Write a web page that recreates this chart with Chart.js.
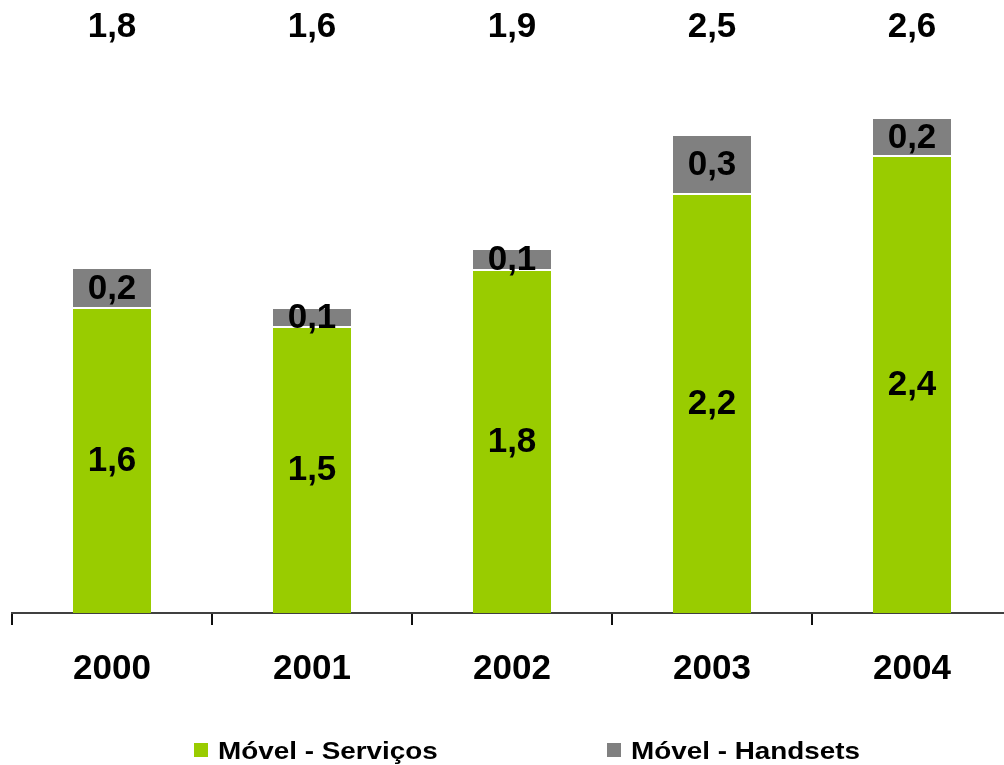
<!DOCTYPE html>
<html>
<head>
<meta charset="utf-8">
<script src="https://cdn.jsdelivr.net/npm/chart.js@4.4.1/dist/chart.umd.min.js"></script>
<style>
  html, body { margin: 0; padding: 0; background: #fff; overflow: hidden; width: 1004px; height: 765px; }
  #wrap { width: 1020px; height: 765px; }
</style>
</head>
<body>
<div id="wrap"><canvas id="abc" width="1020" height="765"></canvas></div>
<script>
const years = ["2000", "2001", "2002", "2003", "2004"];
const servicos = [1.61, 1.51, 1.81, 2.21, 2.41];
const handsets = [0.2, 0.09, 0.1, 0.3, 0.19];
const totals = [1.8, 1.6, 1.9, 2.5, 2.6];
const seriesNames = ["Móvel - Serviços", "Móvel - Handsets"];
const barColors = ["#99CC00", "#808080"];

const font = "bold 35px 'Liberation Sans', Arial, sans-serif";
function fmt(v) { return v.toFixed(1).replace(".", ","); }

// labels inside the segments, totals on top, and the legend at the bottom
const labelsPlugin = {
  id: "labels",
  afterDatasetsDraw(chart) {
    const ctx = chart.ctx;
    ctx.save();
    ctx.fillStyle = "#000";
    ctx.font = font;
    ctx.textAlign = "center";
    ctx.textBaseline = "middle";
    chart.data.datasets.forEach((ds, i) => {
      chart.getDatasetMeta(i).data.forEach((bar, j) => {
        const p = bar.getProps(["x", "y", "base"], true);
        ctx.fillText(fmt(ds.data[j]), p.x, (p.y + p.base) / 2 + 1);
      });
    });
    chart.getDatasetMeta(0).data.forEach((bar, j) => {
      ctx.fillText(fmt(totals[j]), bar.x, 27);
    });

    // legend (text in the reference is a bit stretched sideways)
    ctx.font = "bold 24px 'Liberation Sans', Arial, sans-serif";
    ctx.textAlign = "left";
    ctx.textBaseline = "alphabetic";
    const boxX = [194, 607];
    seriesNames.forEach((name, i) => {
      ctx.fillStyle = barColors[i];
      ctx.fillRect(boxX[i], 743, 14, 14);
      ctx.fillStyle = "#000";
      ctx.save();
      ctx.translate(boxX[i] + 24, 759);
      ctx.scale(1.16, 1);
      ctx.fillText(name, 0, 0);
      ctx.restore();
    });
    ctx.restore();
  }
};

var a = document.getElementById("abc");
new Chart(a, {
  type: "bar",
  data: {
    labels: years,
    datasets: [{
      label: seriesNames[0],
      data: servicos,
      backgroundColor: barColors[0],
      borderColor: "#ffffff",
      borderWidth: { top: 2, left: 0, right: 0, bottom: 0 },
      borderSkipped: false
    }, {
      label: seriesNames[1],
      data: handsets,
      backgroundColor: barColors[1],
      borderWidth: 0
    }]
  },
  options: {
    responsive: false,
    animation: false,
    layout: { padding: { top: 43, left: 12, right: 8, bottom: 0 } },
    categoryPercentage: 1,
    barPercentage: 0.39,
    plugins: {
      legend: { display: false },
      tooltip: { enabled: false }
    },
    scales: {
      x: {
        stacked: true,
        afterFit(scale) { scale.height = 152; },
        grid: {
          offset: true,
          drawOnChartArea: false,
          drawTicks: true,
          tickLength: 12,
          color: "#111",
          lineWidth: 2
        },
        border: { display: true, color: "#404040", width: 2 },
        ticks: {
          color: "#000",
          padding: 23,
          font: { family: "'Liberation Sans', Arial, sans-serif", size: 35, weight: "bold" }
        }
      },
      y: {
        stacked: true,
        display: false,
        min: 0,
        max: 3
      }
    }
  },
  plugins: [labelsPlugin]
});
</script>
</body>
</html>
